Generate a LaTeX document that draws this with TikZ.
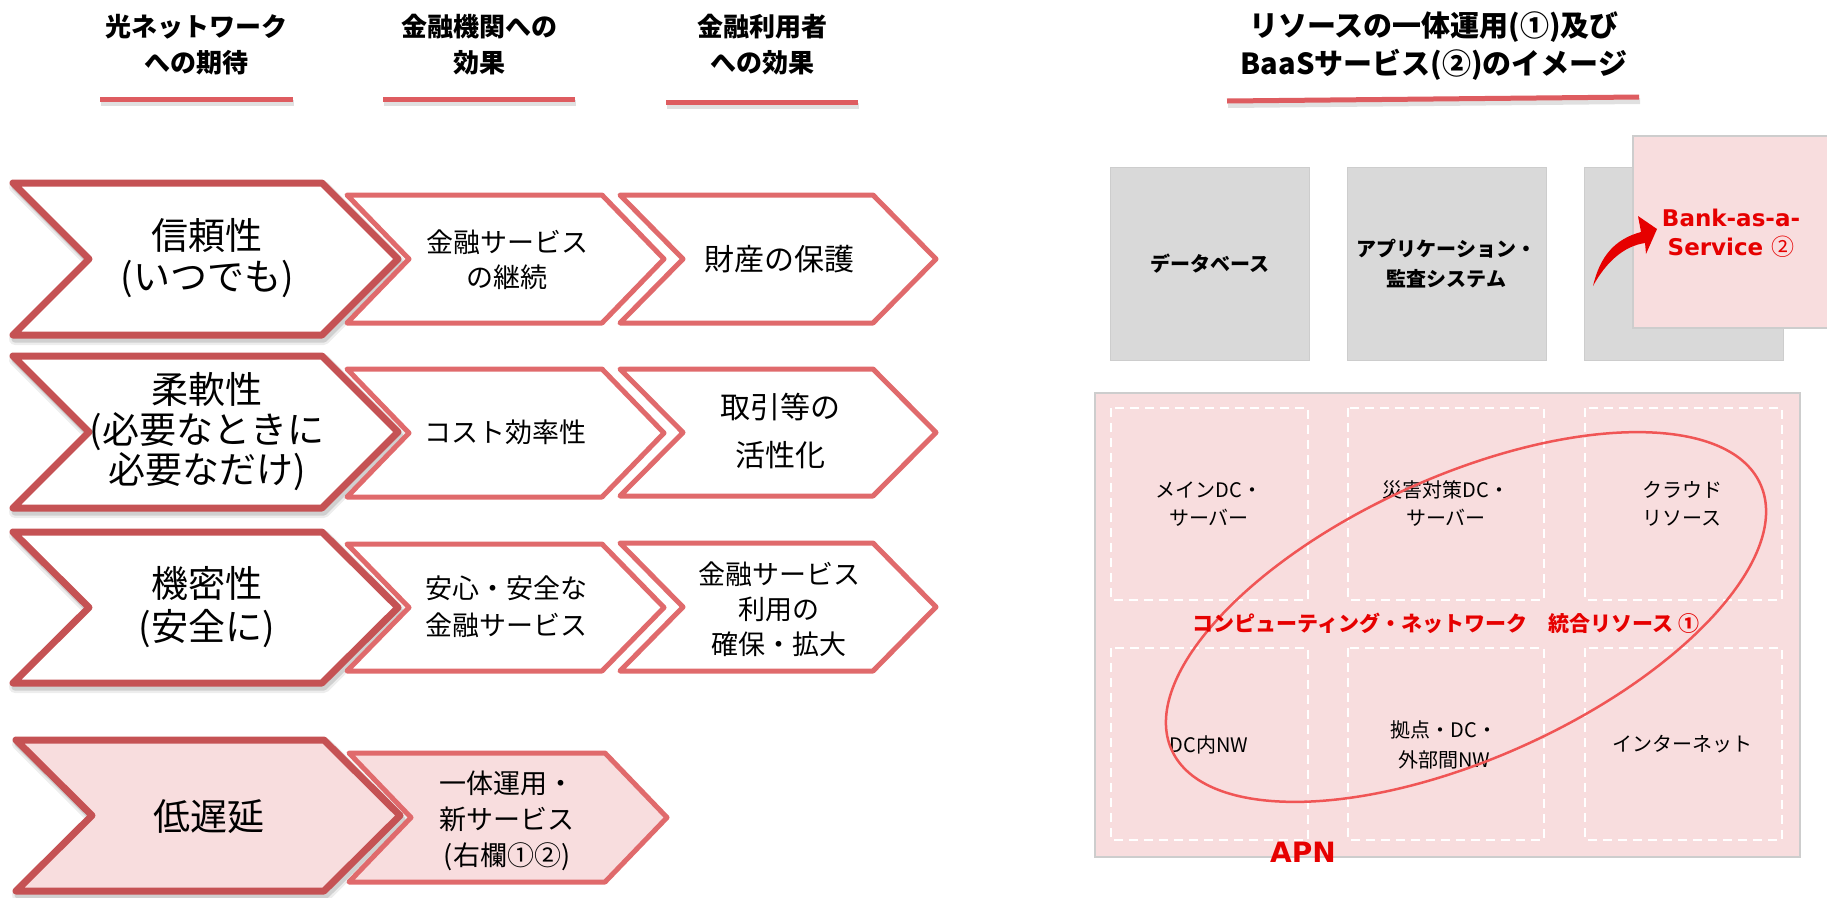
\documentclass[tikz,border=0pt]{standalone}
\usepackage{fontspec}
\setmainfont{Noto Sans CJK JP}
\newfontfamily\latb{DejaVu Sans}
\definecolor{cdark}{RGB}{197,82,84}
\definecolor{clight}{RGB}{224,106,108}
\definecolor{chead}{RGB}{222,92,96}
\definecolor{cpink}{RGB}{248,221,222}
\definecolor{cgray}{RGB}{217,217,217}
\definecolor{cgrayb}{RGB}{205,205,205}
\definecolor{cred}{RGB}{230,0,0}
\definecolor{cell}{RGB}{240,85,85}
\newcommand{\chev}[6]{%
  \draw[#1] (#2,#3) -- (#4,#3) -- ({#4+#6},{(#3+#5)/2}) -- (#4,#5) -- (#2,#5) -- ({#2+#6},{(#3+#5)/2}) -- cycle;}
\begin{document}
\begin{tikzpicture}[x=1pt,y=-1pt,
  bigchev/.style={draw=cdark,line width=7pt,line join=round,fill=white},
  bigchevp/.style={bigchev,fill=cpink},
  smchev/.style={draw=clight,line width=5pt,line join=round,fill=white},
  smchevp/.style={smchev,fill=cpink},
  shadowa/.style={draw=black,opacity=0.07,line width=12pt,line join=round,shift={(2,4)}},
  shadowb/.style={draw=black,opacity=0.12,line width=7pt,line join=round,shift={(2,4)}},
  hd/.style={align=center,inner sep=0pt,font=\bfseries\fontsize{26}{36}\selectfont},
  ulin/.style={draw=chead,line width=5pt},
  ulsh/.style={draw=black,opacity=0.12,line width=6pt},
  t1/.style={align=center,inner sep=0pt,font=\fontsize{37}{41}\selectfont},
  t2/.style={align=center,inner sep=0pt,font=\fontsize{27}{36}\selectfont},
  t3/.style={align=center,inner sep=0pt,font=\fontsize{30}{48}\selectfont},
  t3s/.style={align=center,inner sep=0pt,font=\fontsize{27}{35}\selectfont},
  graybox/.style={fill=cgray,draw=cgrayb,line width=0.8pt,minimum width=199pt,minimum height=193pt,inner sep=0pt,align=center,font=\bfseries\fontsize{20}{30}\selectfont},
  dashbox/.style={draw=white,line width=2.5pt,dash pattern=on 9pt off 6pt},
  apntxt/.style={align=center,inner sep=0pt,font=\fontsize{20}{28}\selectfont},
]
\useasboundingbox (0,0) rectangle (1827,897);
\fill[white] (0,0) rectangle (1827,897);

% ---------- headers ----------
\node[hd] (h1) at (196,45) {光ネットワーク\\への期待};
\node[hd] (h2) at (479,45) {金融機関への\\効果};
\node[hd] (h3) at (762,45) {金融利用者\\への効果};
\node[hd,font=\bfseries\fontsize{29}{38}\selectfont] (h4) at (1434,46) {リソースの一体運用(①)及び\\BaaSサービス(②)のイメージ};
\draw[ulsh] (101,103) -- (294,103);
\draw[ulin] (100,99) -- (293,99);
\draw[ulsh] (384,103) -- (576,103);
\draw[ulin] (383,99) -- (575,99);
\draw[ulsh] (667,106) -- (859,106);
\draw[ulin] (666,102) -- (858,102);
\draw[ulsh] (1228,105) -- (1640,101);
\draw[ulin] (1227,101) -- (1639,97);

% ---------- shadows of first column ----------
\chev{shadowa}{13}{183}{322}{335}{76}
\chev{shadowb}{13}{183}{322}{335}{76}
\chev{shadowa}{13}{356}{322}{508}{76}
\chev{shadowb}{13}{356}{322}{508}{76}
\chev{shadowa}{13}{532}{322}{683}{76}
\chev{shadowb}{13}{532}{322}{683}{76}
\chev{shadowa}{16}{740}{324}{891}{76}
\chev{shadowb}{16}{740}{324}{891}{76}

% ---------- chevrons ----------
\chev{smchev}{620}{195}{873}{323}{63}
\chev{smchev}{620}{369}{873}{496}{63}
\chev{smchev}{620}{543}{873}{671}{63}
\chev{smchev}{347}{195}{602}{323}{62}
\chev{smchev}{347}{369}{602}{497}{62}
\chev{smchev}{347}{544}{602}{671}{62}
\chev{smchevp}{349}{753}{605}{882}{62}
\chev{bigchev}{13}{183}{322}{335}{76}
\chev{bigchev}{13}{356}{322}{508}{76}
\chev{bigchev}{13}{532}{322}{683}{76}
\chev{bigchevp}{16}{740}{324}{891}{76}

% ---------- chevron texts ----------
\node[t1] (a1) at (207,258) {信頼性\\(いつでも)};
\node[t1,font=\fontsize{37}{40}\selectfont] (a2) at (207,432) {柔軟性\\(必要なときに\\必要なだけ)};
\node[t1,font=\fontsize{37}{43}\selectfont] (a3) at (207,607) {機密性\\(安全に)};
\node[t1] (a4) at (209,817) {低遅延};
\node[t2,font=\fontsize{27}{35}\selectfont] (b1) at (507,260) {金融サービス\\の継続};
\node[t2] (b2) at (505,432) {コスト効率性};
\node[t2,font=\fontsize{27}{37}\selectfont] (b3) at (506,607) {安心・安全な\\金融サービス};
\node[t2] (b4) at (507,821) {一体運用・\\新サービス\\(右欄①②)};
\node[t3] (c1) at (779,259) {財産の保護};
\node[t3] (c2) at (780,431) {取引等の\\活性化};
\node[t3s] (c3) at (779,609) {金融サービス\\利用の\\確保・拡大};

% ---------- right panel: service boxes ----------
\node[graybox] (g1) at (1209.5,263.5) {データベース};
\node[graybox] (g2) at (1446.5,263.5) {アプリケーション・\\監査システム};
\node[graybox] (g3) at (1683.5,263.5) {};
\draw[fill=cpink,draw=cgrayb,line width=1.5pt] (1633,136) rectangle (1850,328);
\node[align=center,inner sep=0pt,text=cred,font=\latb\bfseries\fontsize{23}{29}\selectfont] (baas) at (1731,233) {Bank-as-a-\\Service {\rmfamily\mdseries ②}};
\fill[cred] (1593,286) .. controls (1600,256) and (1615,239) .. (1641,232)
  -- (1638,216) -- (1657,229) -- (1646,254) -- (1645,243)
  .. controls (1624,246) and (1606,262) .. cycle;

% ---------- right panel: APN ----------
\draw[fill=cpink,draw=cgrayb,line width=2pt] (1095,393) rectangle (1800,857);
\draw[dashbox] (1111,408) rectangle (1308,600);
\draw[dashbox] (1348,408) rectangle (1544,600);
\draw[dashbox] (1585,408) rectangle (1782,600);
\draw[dashbox] (1111,648) rectangle (1308,840);
\draw[dashbox] (1348,648) rectangle (1544,840);
\draw[dashbox] (1585,648) rectangle (1782,840);
\node[apntxt] (n1) at (1209,504) {メインDC・\\サーバー};
\node[apntxt] (n2) at (1446,504) {災害対策DC・\\サーバー};
\node[apntxt] (n3) at (1682,504) {クラウド\\リソース};
\node[apntxt] (n4) at (1209,745) {DC内NW};
\node[apntxt,font=\fontsize{20}{30}\selectfont] (n5) at (1444,745) {拠点・DC・\\外部間NW};
\node[apntxt] (n6) at (1682,744) {インターネット};
\draw[cell,line width=2.5pt,shift={(1466,617)},rotate=24.3] (0,0) ellipse (323 and 141);
\node[inner sep=0pt,text=cred,font=\bfseries\fontsize{21}{25}\selectfont] (uni) at (1446,623) {コンピューティング・ネットワーク　統合リソース ①};
\node[inner sep=0pt,text=cred,font=\latb\bfseries\fontsize{28}{30}\selectfont] (apn) at (1303,852) {APN};
\end{tikzpicture}
\end{document}
